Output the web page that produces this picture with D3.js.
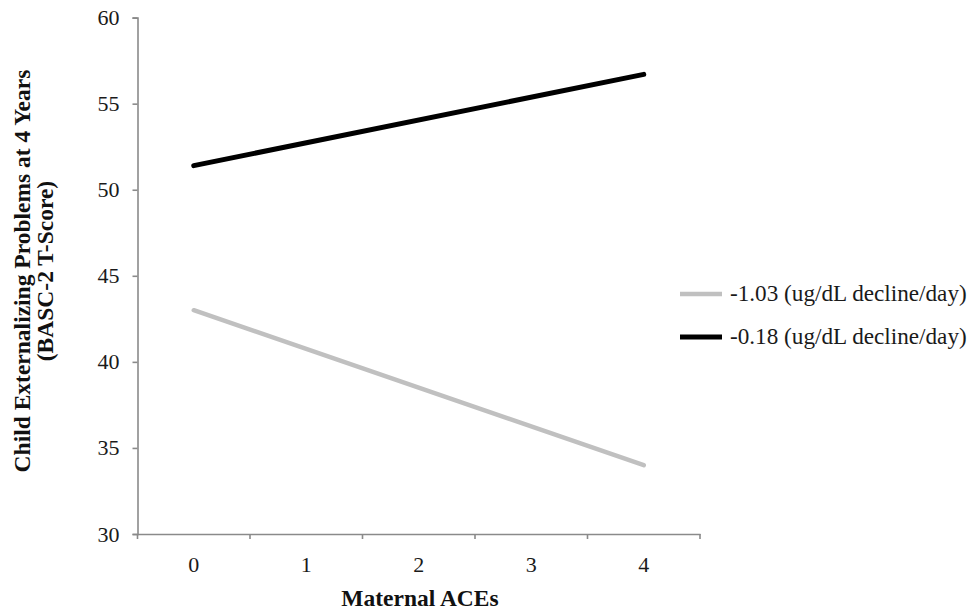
<!DOCTYPE html>
<html><head><meta charset="utf-8">
<script src="https://cdn.jsdelivr.net/npm/d3@7"></script>
<style>body{margin:0;background:#fff}</style>
</head><body><svg id="c" width="973" height="611"></svg>
<script>
const categories = ["0","1","2","3","4"];
const seriesNames = ["-1.03 (ug/dL decline/day)","-0.18 (ug/dL decline/day)"];
const seriesColors = ["#c0c0c0","#000000"];
const lowSeries = [43.0, 34.0];   // values at ACEs 0 and 4
const highSeries = [51.4, 56.7];
const endpointCats = ["0","4"];
const yTicks = [30,35,40,45,50,55,60];
const xTitle = "Maternal ACEs";
const yTitle = ["Child Externalizing Problems at 4 Years","(BASC-2 T-Score)"];

const FONT = "'Liberation Serif', 'Times New Roman', Times, serif";
const svg = d3.select("#c");
const mLeft = 137.5, mRight = 700, mTop = 17.6, mBottom = 534;
const x = d3.scaleBand().domain(categories).range([mLeft, mRight]);
const y = d3.scaleLinear().domain([30,60]).range([mBottom, mTop]);

const axisColor = "#8a8a8a";
// y axis
const ya = svg.append("g").attr("transform",`translate(${mLeft},0)`)
  .call(d3.axisLeft(y).tickValues(yTicks).tickSize(5).tickPadding(13));
ya.select(".domain").attr("stroke",axisColor).attr("stroke-width",1.6);
ya.selectAll(".tick line").attr("stroke",axisColor).attr("stroke-width",1.6);
ya.selectAll("text").style("font-family",FONT).style("font-size","22px").attr("fill","#1a1a1a");

// x axis
const xa = svg.append("g").attr("transform",`translate(0,${mBottom})`)
  .call(d3.axisBottom(x).tickSize(0).tickPadding(22));
xa.select(".domain").attr("stroke",axisColor).attr("stroke-width",1.6);
xa.selectAll("text").style("font-family",FONT).style("font-size","22px").attr("fill","#1a1a1a");
// band boundary ticks
const bounds = categories.map(c => x(c)).concat([x.range()[1]]);
svg.append("g").selectAll("line").data(bounds).join("line")
  .attr("x1",d=>d).attr("x2",d=>d).attr("y1",mBottom).attr("y2",mBottom+5)
  .attr("stroke",axisColor).attr("stroke-width",1.6);

// lines
const series = [lowSeries, highSeries];
const line = d3.line().x((d,i)=>x(endpointCats[i])+x.bandwidth()/2).y(d=>y(d));
series.forEach((s,i)=>{
  svg.append("path").attr("d",line(s)).attr("fill","none")
    .attr("stroke",seriesColors[i]).attr("stroke-width",i===0?4.5:5).attr("stroke-linecap","round");
});

// axis titles
svg.append("text").attr("x",420).attr("y",606).attr("text-anchor","middle")
  .style("font-family",FONT).style("font-size","23.5px").attr("font-weight","bold").attr("fill","#111").text(xTitle);
yTitle.forEach((t,i)=>{
  svg.append("text").attr("transform",`translate(${30+i*23},${271}) rotate(-90)`)
    .attr("text-anchor","middle").style("font-family",FONT).style("font-size","23.5px")
    .attr("font-weight","bold").attr("fill","#111").text(t);
});

// legend
seriesNames.forEach((n,i)=>{
  const ly = 294 + i*43;
  svg.append("line").attr("x1",680).attr("x2",722).attr("y1",ly).attr("y2",ly)
    .attr("stroke",seriesColors[i]).attr("stroke-width",i===0?4.5:5);
  svg.append("text").attr("x",730).attr("y",ly+7).style("font-family",FONT)
    .style("font-size","23.2px").attr("fill","#1a1a1a").text(n);
});
</script></body></html>
